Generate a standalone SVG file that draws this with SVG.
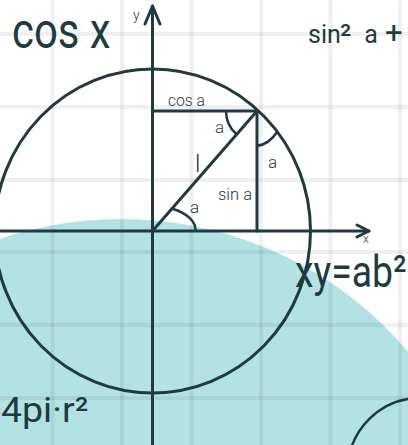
<svg xmlns="http://www.w3.org/2000/svg" width="408" height="445" viewBox="0 0 408 445">
<style>
.ln{fill:none;stroke:#1f3a40;stroke-width:3;stroke-linecap:round;stroke-linejoin:round}
.arc{fill:none;stroke:#1f3a40;stroke-width:2.5}
.grid{stroke:#000;stroke-opacity:0.06;stroke-width:4}
.t{font-family:Roboto,"Liberation Sans",sans-serif;font-weight:300;fill:#1f3a40}
.s{font-size:17px}
.big{font-weight:400}
</style>
<rect width="408" height="445" fill="#fff"/>
<g id="teal">
<ellipse cx="121" cy="579" rx="370" ry="360" fill="#b2e2e2"/>
</g>
<g id="grid" class="grid">
<line x1="52.5" y1="0" x2="52.5" y2="445"/>
<line x1="122" y1="0" x2="122" y2="445"/>
<line x1="191.5" y1="0" x2="191.5" y2="445"/>
<line x1="261" y1="0" x2="261" y2="445"/>
<line x1="330.5" y1="0" x2="330.5" y2="445"/>
<line x1="400" y1="0" x2="400" y2="445"/>
<line x1="0" y1="34" x2="408" y2="34"/>
<line x1="0" y1="107" x2="408" y2="107"/>
<line x1="0" y1="180" x2="408" y2="180"/>
<line x1="0" y1="252" x2="408" y2="252"/>
<line x1="0" y1="325" x2="408" y2="325"/>
<line x1="0" y1="398" x2="408" y2="398"/>
</g>
<g id="circles">
<ellipse class="ln" cx="152.5" cy="231" rx="158" ry="162"/>
<circle class="arc" cx="420" cy="470" r="72"/>
</g>
<g id="connectors">
<line class="ln" x1="152.5" y1="6" x2="152.5" y2="445"/>
<path class="ln" d="M145,24 L152.5,6 L160,24"/>
<line class="ln" x1="0" y1="231" x2="369" y2="231"/>
<path class="ln" d="M357,225 L369,231 L357,237"/>
<path class="ln" d="M152.5,111 L257,111 L257,231"/>
<line class="ln" x1="152.5" y1="231" x2="257" y2="111"/>
<path class="arc" d="M226,111 A31,31 0 0 0 236.5,134.3"/>
<path class="arc" d="M257,146 A30,35 0 0 0 277,132"/>
<path class="arc" d="M173,209 A43,24 0 0 1 195.5,231"/>
</g>
<g id="labels">
<text class="t s" x="168" y="106" textLength="37" lengthAdjust="spacingAndGlyphs">cos a</text>
<text class="t s" x="218" y="200" textLength="34" lengthAdjust="spacingAndGlyphs">sin a</text>
<text class="t s" x="215" y="133">a</text>
<text class="t s" x="268" y="168">a</text>
<text class="t s" x="190" y="213">a</text>
<text class="t" x="195" y="172" font-size="24">l</text>
<text class="t" x="133" y="20" font-size="14">y</text>
<text class="t" x="363" y="243" font-size="12">x</text>
</g>
<g id="formulas">
<text class="t big" transform="translate(12,48) scale(0.838,1)" font-size="50">cos x</text>
<text class="t big" x="308" y="43" font-size="25">sin<tspan x="340" font-size="31" dy="3">²</tspan><tspan x="358" dy="-3"> a</tspan><tspan x="385" font-size="31">+</tspan></text>
<text class="t big" transform="translate(295,287) scale(0.83,1)" font-size="45">xy=ab²</text>
<text class="t big" transform="translate(1,422) scale(1.07,1)" font-size="35">4pi·r²</text>
</g>
</svg>
